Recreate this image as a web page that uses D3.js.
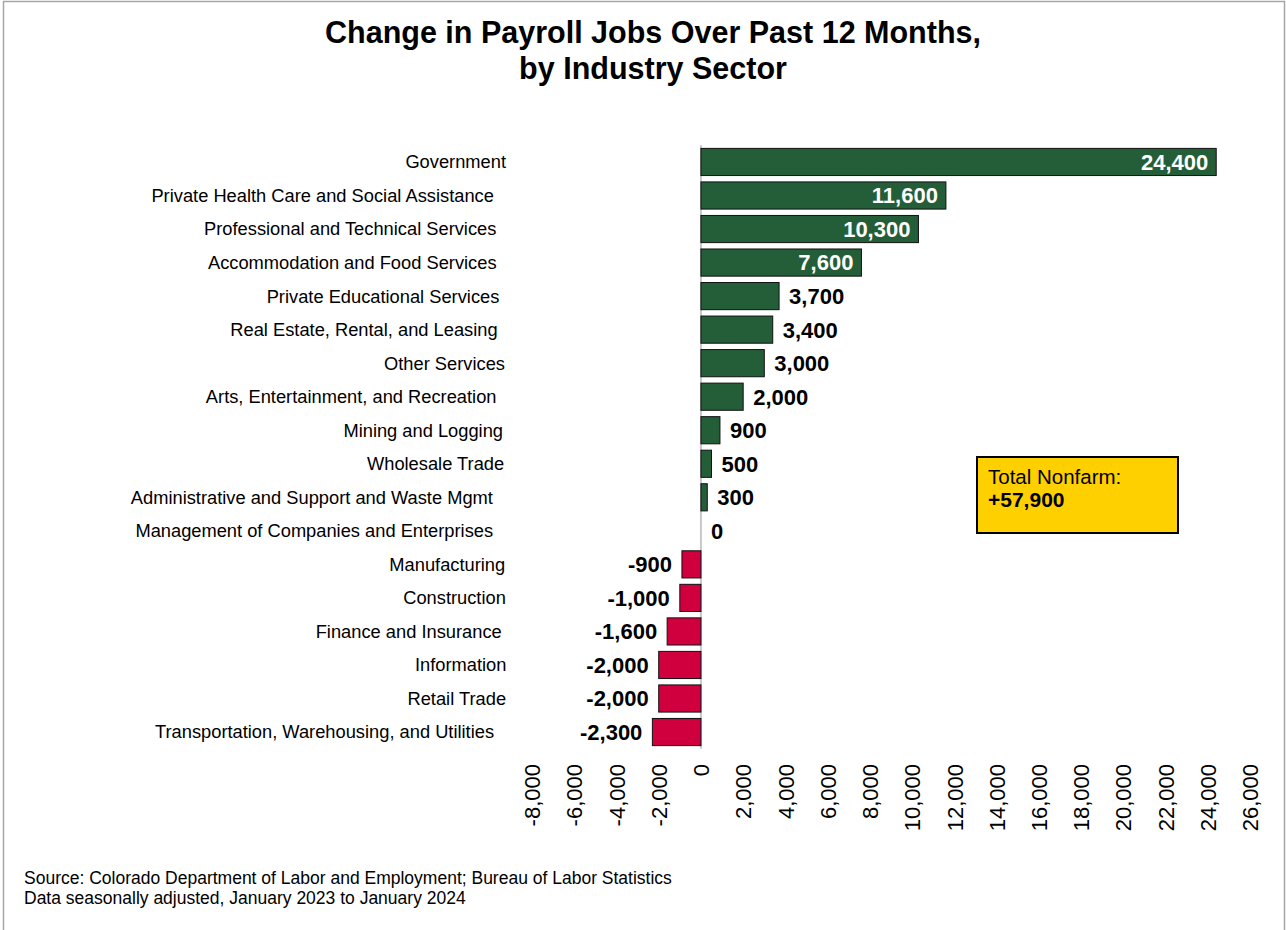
<!DOCTYPE html>
<html>
<head>
<meta charset="utf-8">
<script src="https://cdn.jsdelivr.net/npm/d3@7"></script>
<style>
  body { margin: 0; background: #fff; }
  text { font-family: "Liberation Sans", Arial, sans-serif; }
</style>
</head>
<body>
<div id="chart"></div>
<script>
const sectors = [
  "Government",
  "Private Health Care and Social Assistance",
  "Professional and Technical Services",
  "Accommodation and Food Services",
  "Private Educational Services",
  "Real Estate, Rental, and Leasing",
  "Other Services",
  "Arts, Entertainment, and Recreation",
  "Mining and Logging",
  "Wholesale Trade",
  "Administrative and Support and Waste Mgmt",
  "Management of Companies and Enterprises",
  "Manufacturing",
  "Construction",
  "Finance and Insurance",
  "Information",
  "Retail Trade",
  "Transportation, Warehousing, and Utilities"
];
const changes = [24400, 11600, 10300, 7600, 3700, 3400, 3000, 2000, 900, 500, 300, 0,
                 -900, -1000, -1600, -2000, -2000, -2300];
const tickValues = [-8000, -6000, -4000, -2000, 0, 2000, 4000, 6000, 8000, 10000, 12000,
                    14000, 16000, 18000, 20000, 22000, 24000, 26000];
const titleLines = ["Change in Payroll Jobs Over Past 12 Months,", "by Industry Sector"];
const sourceLines = ["Source:  Colorado Department of Labor and Employment; Bureau of Labor Statistics",
                     "Data seasonally adjusted, January 2023 to January 2024"];
const totalLabel = "Total Nonfarm:";
const totalValue = "+57,900";

const W = 1286, H = 930;
const plot = {left: 532, right: 1250, top: 145.2, bottom: 748.8};

const fmt = d3.formatLocale({decimal: ".", thousands: ",", grouping: [3], currency: ["$", ""], minus: "-"}).format(",");

const svg = d3.select("#chart")
              .append("svg")
              .attr("width", W)
              .attr("height", H);

svg.append("rect")
   .attr("x", 3.5).attr("y", 1.5)
   .attr("width", 1281).attr("height", 940)
   .attr("fill", "#fff")
   .attr("stroke", "#a6a6a6")
   .attr("stroke-width", 1.5);

// title
svg.append("g").selectAll("text")
   .data(titleLines)
   .enter()
   .append("text")
   .attr("x", 653)
   .attr("y", (d, i) => 43 + i * 36)
   .attr("text-anchor", "middle")
   .style("font-size", "30.5px")
   .style("font-weight", "bold")
   .text(d => d);

const x = d3.scaleLinear()
            .domain([-8000, 26000])
            .range([plot.left, plot.right]);

const y = d3.scaleBand()
            .domain(sectors)
            .range([plot.top, plot.bottom])
            .paddingInner(0.19)
            .paddingOuter(0.095);

// zero line
svg.append("line")
   .attr("x1", x(0)).attr("x2", x(0))
   .attr("y1", plot.top).attr("y2", plot.bottom)
   .attr("stroke", "#c8c8c8")
   .attr("stroke-width", 2);

const data = sectors.map((s, i) => ({sector: s, value: changes[i]}));

svg.selectAll(".bar")
   .data(data.filter(d => d.value !== 0))
   .enter()
   .append("rect")
   .attr("class", "bar")
   .attr("x", d => x(Math.min(0, d.value)))
   .attr("y", d => y(d.sector))
   .attr("width", d => Math.abs(x(d.value) - x(0)))
   .attr("height", y.bandwidth())
   .attr("fill", d => d.value > 0 ? "#245e38" : "#d0003f")
   .attr("stroke", "#111")
   .attr("stroke-width", 1);

// category labels (longer labels sit a bit further left, like the original)
svg.selectAll(".cat")
   .data(data)
   .enter()
   .append("text")
   .attr("class", "cat")
   .attr("y", d => y(d.sector) + y.bandwidth() / 2)
   .attr("dy", "0.35em")
   .attr("text-anchor", "end")
   .style("font-size", "18.3px")
   .text(d => d.sector)
   .attr("x", function() { return 511 - 0.05 * this.getComputedTextLength(); });

// value labels
const inside = d => d.value > 5000;
svg.selectAll(".val")
   .data(data)
   .enter()
   .append("text")
   .attr("class", "val")
   .attr("x", d => inside(d) ? x(d.value) - 8 : (d.value < 0 ? x(d.value) - 10 : x(d.value) + 10))
   .attr("y", d => y(d.sector) + y.bandwidth() / 2)
   .attr("dy", "0.36em")
   .attr("text-anchor", d => (inside(d) || d.value < 0) ? "end" : "start")
   .attr("fill", d => inside(d) ? "#fff" : "#000")
   .style("font-size", "22px")
   .style("font-weight", "bold")
   .text(d => fmt(d.value));

// x axis, labels rotated
const xAxis = svg.append("g")
   .attr("transform", `translate(0, 764)`)
   .call(d3.axisBottom(x).tickValues(tickValues).tickSize(0).tickFormat(fmt));
xAxis.select(".domain").remove();
xAxis.selectAll("text")
     .attr("transform", "rotate(-90)")
     .attr("x", 0)
     .attr("y", 0)
     .attr("dy", "0.35em")
     .style("text-anchor", "end")
     .style("font-size", "22px")
     .style("font-family", "'Liberation Sans', Arial, sans-serif")
     .attr("fill", "#000");

// total box
const box = svg.append("g").attr("transform", "translate(977,457)");
box.append("rect")
   .attr("width", 201).attr("height", 76)
   .attr("fill", "#ffd000")
   .attr("stroke", "#000")
   .attr("stroke-width", 2);
box.append("text")
   .attr("x", 11).attr("y", 27)
   .style("font-size", "20.5px")
   .text(totalLabel);
box.append("text")
   .attr("x", 11).attr("y", 50)
   .style("font-size", "21px")
   .style("font-weight", "bold")
   .text(totalValue);

// source note
svg.append("g").selectAll("text")
   .data(sourceLines)
   .enter()
   .append("text")
   .attr("x", 24)
   .attr("y", (d, i) => 884 + i * 20)
   .style("font-size", "17.5px")
   .text(d => d);
</script>
</body>
</html>
